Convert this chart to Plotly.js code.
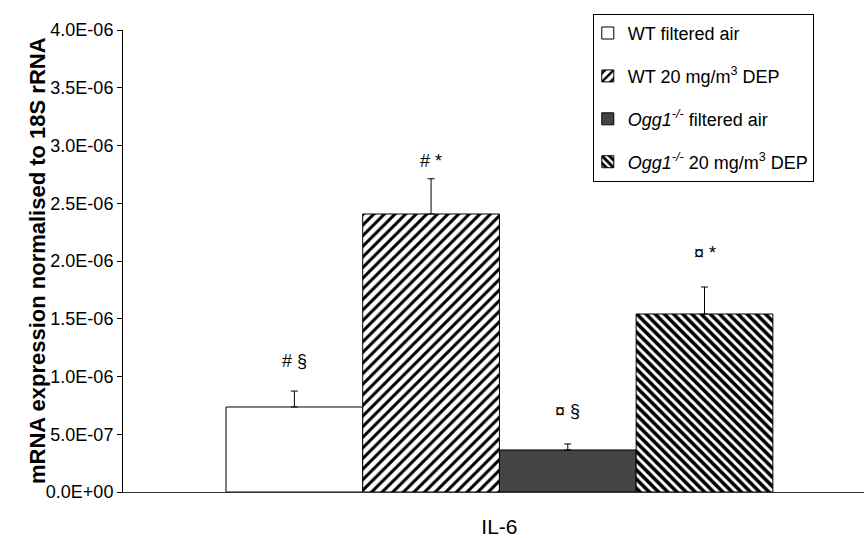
<!DOCTYPE html>
<html>
<head>
<meta charset="utf-8">
<script src="https://cdn.plot.ly/plotly-3.0.1.min.js"></script>
<style>html,body{margin:0;padding:0;background:#fff;}#chart{width:864px;height:538px;}</style>
</head>
<body>
<div id="chart"></div>
<script>
// ---- data ----
const categories = ["IL-6"];
const seriesNames = [
  "WT filtered air",
  "WT 20 mg/m<sup>3</sup> DEP",
  "<i>Ogg1</i><sup><i>-/-</i></sup> filtered air",
  "<i>Ogg1</i><sup><i>-/-</i></sup> 20 mg/m<sup>3</sup> DEP"
];
const means = [0.736e-6, 2.407e-6, 0.364e-6, 1.541e-6];
const sems  = [0.138e-6, 0.305e-6, 0.052e-6, 0.234e-6];
const sigLabels = ["# \u00a7", "# *", "\u00a4 \u00a7", "\u00a4 *"];
const sigLabelY = [1.134e-6, 2.866e-6, 0.701e-6, 2.069e-6];
const tickVals = [0, 0.5e-6, 1.0e-6, 1.5e-6, 2.0e-6, 2.5e-6, 3.0e-6, 3.5e-6, 4.0e-6];
const tickText = ["0.0E+00","5.0E-07","1.0E-06","1.5E-06","2.0E-06","2.5E-06","3.0E-06","3.5E-06","4.0E-06"];
const yTitle = "mRNA expression normalised to 18S rRNA";

// ---- styles ----
const styles = [
  {color: "#ffffff", pattern: {shape: ""}},
  {color: "#ffffff", pattern: {shape: "/", fgcolor: "#000000", bgcolor: "#ffffff", size: 7.5, solidity: 0.4}},
  {color: "#444444", pattern: {shape: ""}},
  {color: "#ffffff", pattern: {shape: "\\", fgcolor: "#000000", bgcolor: "#ffffff", size: 6.5, solidity: 0.55}}
];
const bargap = 0.262;
const font = "Liberation Sans, Arial, sans-serif";

const traces = seriesNames.map((name, i) => ({
  type: "bar",
  name: name,
  x: categories,
  y: [means[i]],
  legendgroup: "g" + i,
  marker: {color: styles[i].color, pattern: styles[i].pattern, line: {color: "#000000", width: 1}},
  error_y: {type: "data", symmetric: false, array: [sems[i]], arrayminus: [0], color: "#000000", thickness: 1, width: 3.5},
  hoverinfo: "none"
}));

const n = seriesNames.length;
const w = (1 - bargap) / n;
const annotations = sigLabels.map((t, i) => ({
  x: -(1 - bargap) / 2 + w * (i + 0.5),
  y: sigLabelY[i],
  xref: "x", yref: "y",
  text: t, showarrow: false,
  font: {family: font, size: 18, color: "#000"},
  xanchor: "center", yanchor: "middle"
}));
annotations.push({
  xref: "paper", yref: "paper", x: -0.116, y: 0.5,
  xanchor: "center", yanchor: "middle", textangle: -90,
  text: "<b>" + yTitle + "</b>", showarrow: false,
  font: {family: font, size: 22, color: "#000"}
});

const layout = {
  width: 864, height: 538,
  margin: {l: 123, r: 0, t: 30, b: 46},
  paper_bgcolor: "#fff", plot_bgcolor: "#fff",
  barmode: "group", bargap: bargap, bargroupgap: 0,
  font: {family: font, color: "#000"},
  showlegend: true,
  legend: {
    x: 0.634, y: 1.035, xanchor: "left", yanchor: "top",
    bgcolor: "#fff", bordercolor: "#000", borderwidth: 1,
    font: {family: font, size: 18, color: "#000"},
    traceorder: "grouped", tracegroupgap: 16.5,
    indentation: -6
  },
  xaxis: {
    type: "category", range: [-0.508, 0.492],
    showline: true, linecolor: "#333", linewidth: 1,
    ticks: "", showgrid: false, zeroline: false,
    tickfont: {family: font, size: 21, color: "#000"},
    ticklabelstandoff: 16
  },
  yaxis: {
    range: [0, 4.0e-6], tickvals: tickVals, ticktext: tickText,
    showline: true, linecolor: "#000", linewidth: 1,
    ticks: "outside", ticklen: 5, tickcolor: "#000",
    showgrid: false, zeroline: false,
    tickfont: {family: font, size: 18, color: "#000"}
  },
  annotations: annotations
};

Plotly.newPlot("chart", traces, layout, {staticPlot: true});
</script>
</body>
</html>
